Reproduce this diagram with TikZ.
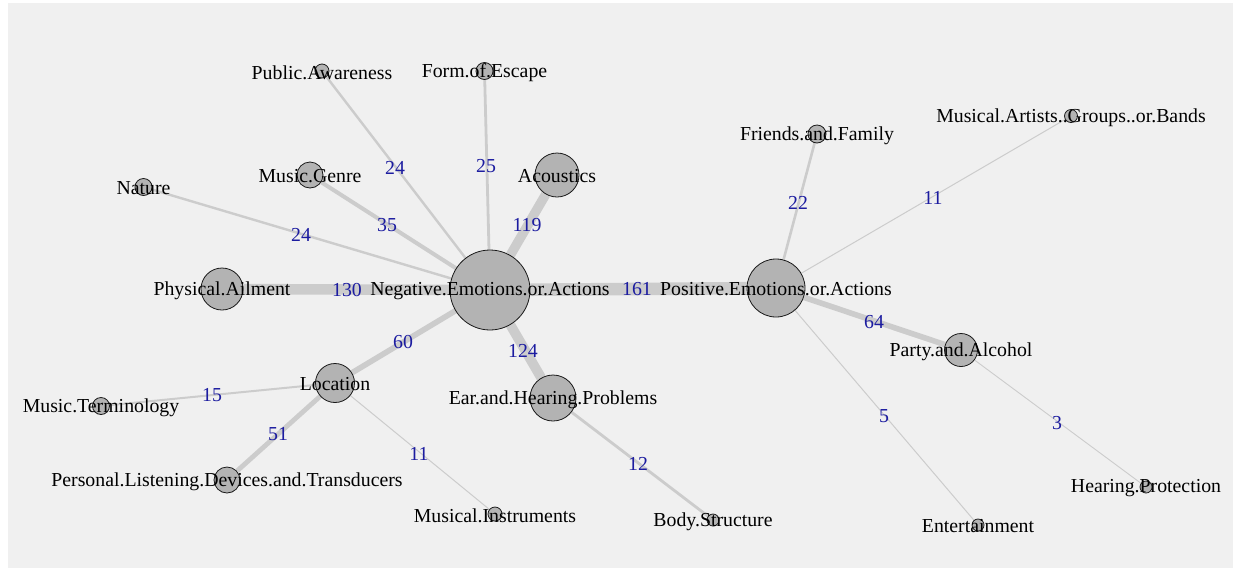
\documentclass[tikz,border=0pt]{standalone}
\usepackage{fontspec}
\setmainfont{Liberation Serif}
\definecolor{panelgrey}{RGB}{240,240,240}
\definecolor{vfill}{RGB}{179,179,179}
\definecolor{vborder}{RGB}{25,25,25}
\definecolor{edgegrey}{RGB}{204,204,204}
\definecolor{elabblue}{RGB}{28,28,160}
\pgfdeclarelayer{panel}
\pgfdeclarelayer{edges}
\pgfsetlayers{panel,edges,main}
\begin{document}
\begin{tikzpicture}[x=1pt,y=-1pt,
  vtx/.style={circle,draw=vborder,fill=vfill,line width=0.8pt,inner sep=0pt,minimum size=#1},
  vlab/.style={font=\fontsize{19.8}{20}\selectfont,text=black,inner sep=0pt,yshift=-1.5pt},
  elab/.style={font=\fontsize{19.8}{20}\selectfont,text=elabblue,inner sep=0pt},
  edge/.style={draw=edgegrey,line width=#1}]
\useasboundingbox (0,0) rectangle (1236,571);
\begin{pgfonlayer}{panel}
  \fill[panelgrey] (8,3) rectangle (1233,568);
\end{pgfonlayer}

% vertices (diameter proportional to degree weight)
\node[vtx=80pt,  label={[vlab]center:Negative.Emotions.or.Actions}] (neg) at (490,290) {};
\node[vtx=58pt,  label={[vlab]center:Positive.Emotions.or.Actions}] (pos) at (776,288) {};
\node[vtx=44pt,  label={[vlab]center:Acoustics}] (aco) at (557,175) {};
\node[vtx=42pt,  label={[vlab]center:Physical.Ailment}] (phy) at (222,289) {};
\node[vtx=46pt,  label={[vlab]center:Ear.and.Hearing.Problems}] (ear) at (553,398) {};
\node[vtx=39pt,  label={[vlab]center:Location}] (loc) at (335,383) {};
\node[vtx=33pt,  label={[vlab]center:Party.and.Alcohol}] (par) at (961,350) {};
\node[vtx=26pt,  label={[vlab]center:Music.Genre}] (gen) at (310,175) {};
\node[vtx=17pt,  label={[vlab]center:Nature}] (nat) at (143.5,187) {};
\node[vtx=18pt,  label={[vlab]center:Friends.and.Family}] (fri) at (817,134) {};
\node[vtx=13pt,  label={[vlab]center:Musical.Artists..Groups..or.Bands}] (art) at (1071,116) {};
\node[vtx=14pt,  label={[vlab]center:Public.Awareness}] (pub) at (322,71) {};
\node[vtx=17pt,  label={[vlab]center:Form.of.Escape}] (esc) at (484.5,71) {};
\node[vtx=17pt,  label={[vlab]center:Music.Terminology}] (ter) at (101,406) {};
\node[vtx=26pt,  label={[vlab]center:Personal.Listening.Devices.and.Transducers}] (pld) at (227,480) {};
\node[vtx=14pt,  label={[vlab]center:Musical.Instruments}] (ins) at (495,514) {};
\node[vtx=12pt,  label={[vlab]center:Body.Structure}] (bod) at (713,520) {};
\node[vtx=12pt,  label={[vlab]center:Entertainment}] (ent) at (978,525) {};
\node[vtx=12pt,  label={[vlab]center:Hearing.Protection}] (hpr) at (1146,487) {};

% edges (width grows with weight)
\begin{pgfonlayer}{edges}
  \draw[edge=10.5pt] (neg) -- (phy);
  \draw[edge=9.5pt]  (neg) -- (aco);
  \draw[edge=9.8pt]  (neg) -- (ear);
  \draw[edge=5.6pt]  (neg) -- (loc);
  \draw[edge=4pt]    (neg) -- (gen);
  \draw[edge=2.4pt]  (neg) -- (pub);
  \draw[edge=2.8pt]  (neg) -- (esc);
  \draw[edge=2.4pt]  (neg) -- (nat);
  \draw[edge=12.6pt] (neg) -- (pos);
  \draw[edge=2pt]    (loc) -- (ter);
  \draw[edge=4.8pt]  (loc) -- (pld);
  \draw[edge=1pt]    (loc) -- (ins);
  \draw[edge=2.8pt]  (ear) -- (bod);
  \draw[edge=2.6pt]  (pos) -- (fri);
  \draw[edge=1pt]    (pos) -- (art);
  \draw[edge=5.6pt]  (pos) -- (par);
  \draw[edge=1pt]    (pos) -- (ent);
  \draw[edge=0.9pt]  (par) -- (hpr);
\end{pgfonlayer}

% edge weights
\node[elab] (w1)  at (347,290) {130};
\node[elab] (w2)  at (527,225) {119};
\node[elab] (w3)  at (523,351) {124};
\node[elab] (w4)  at (403,342) {60};
\node[elab] (w5)  at (387,225) {35};
\node[elab] (w6)  at (395,168) {24};
\node[elab] (w7)  at (486,166) {25};
\node[elab] (w8)  at (301,235) {24};
\node[elab] (w9)  at (637,289) {161};
\node[elab] (w10) at (212,395) {15};
\node[elab] (w11) at (278,434) {51};
\node[elab] (w12) at (419,454) {11};
\node[elab] (w13) at (638,464) {12};
\node[elab] (w14) at (798,203) {22};
\node[elab] (w15) at (933,198) {11};
\node[elab] (w16) at (874,322) {64};
\node[elab] (w17) at (884,416) {5};
\node[elab] (w18) at (1057,423) {3};
\end{tikzpicture}
\end{document}
